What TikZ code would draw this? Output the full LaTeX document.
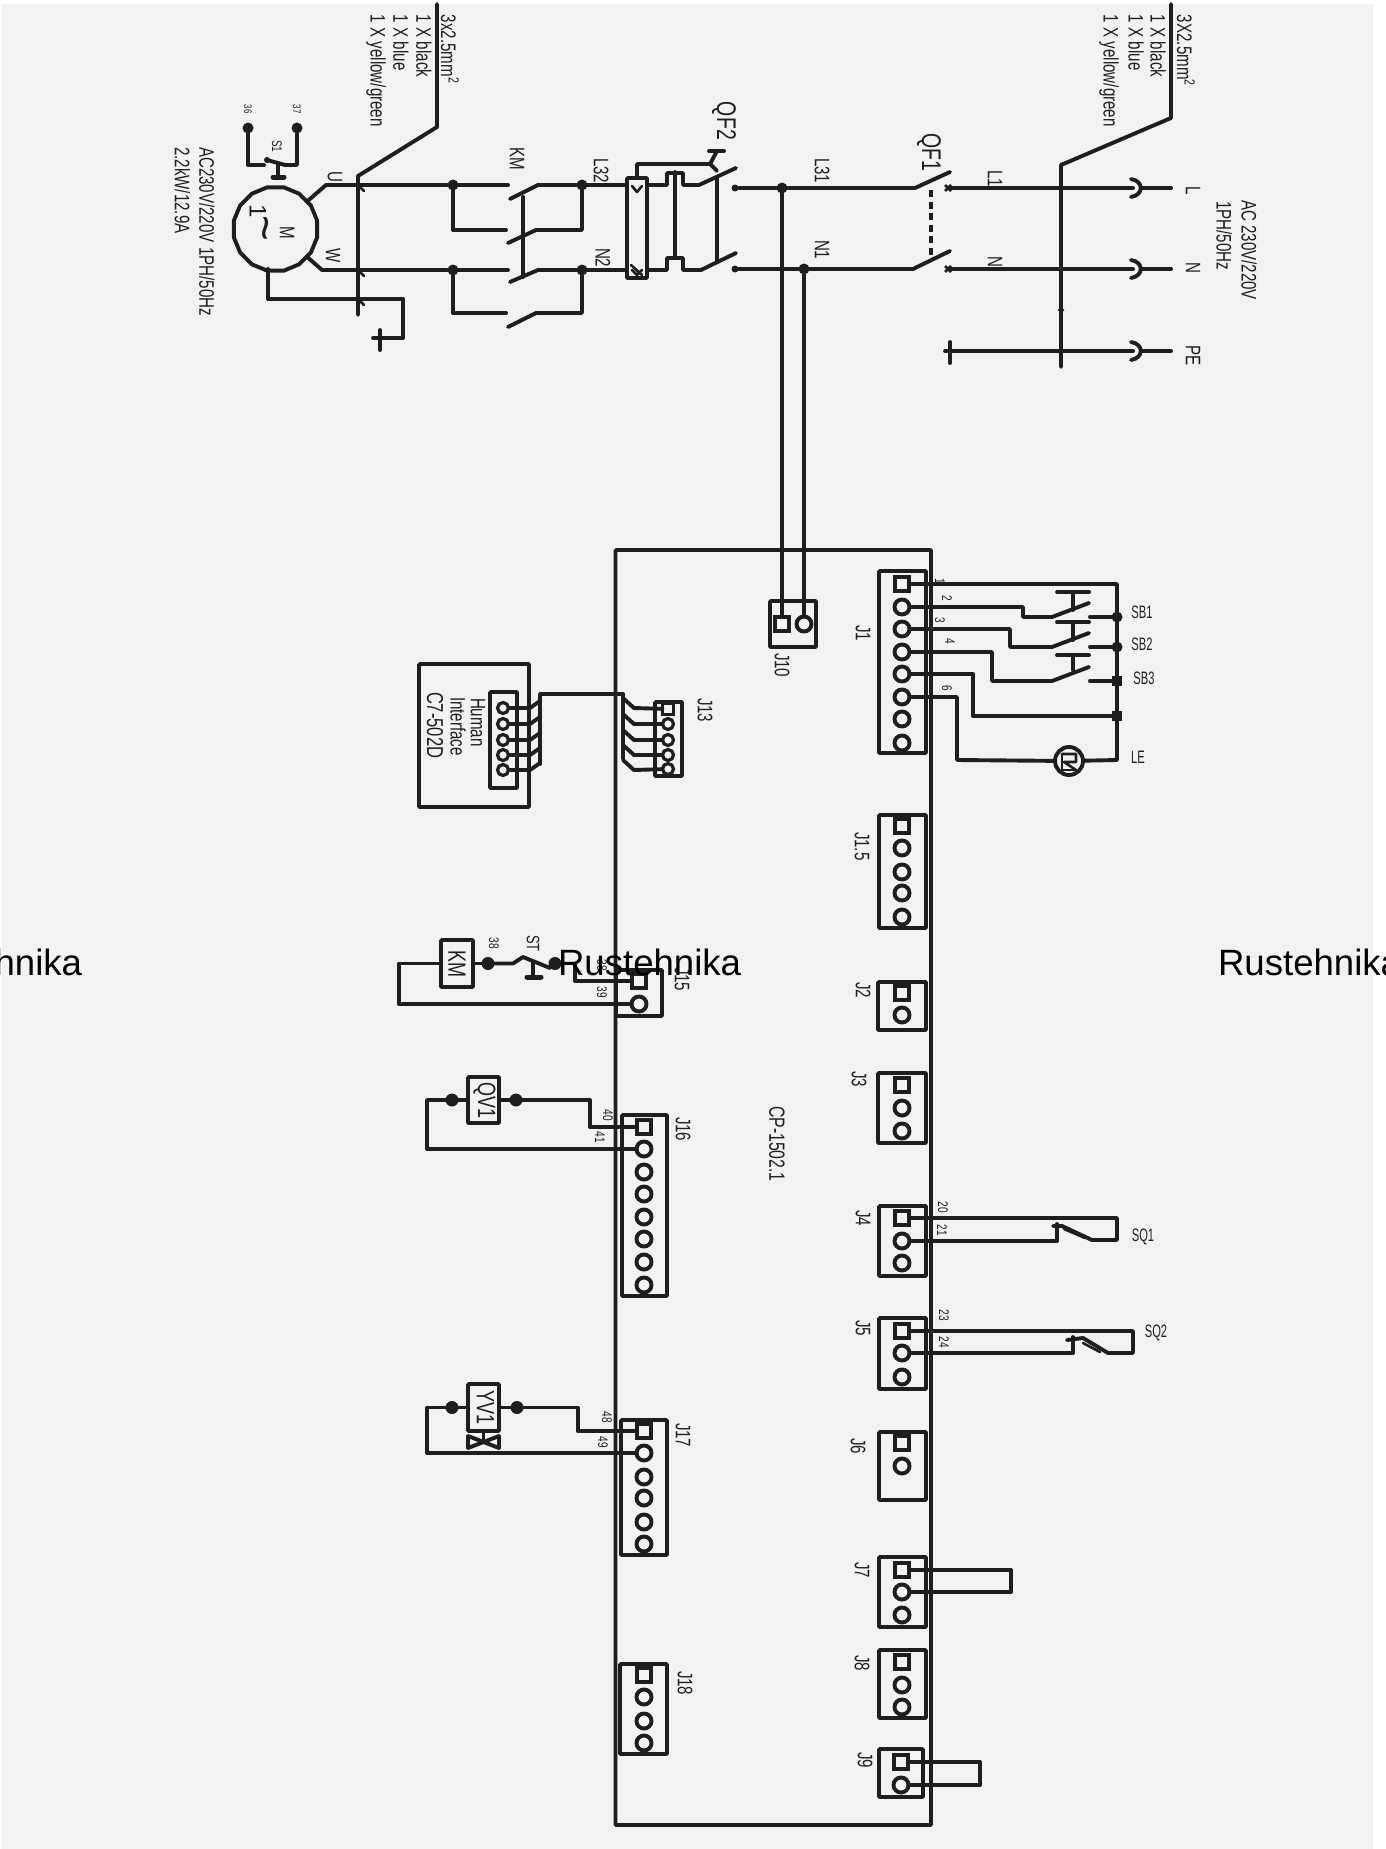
\documentclass[tikz,border=0pt]{standalone}
\usepackage{fontspec}
\usepackage{graphicx}
\setmainfont{Liberation Sans}
\usetikzlibrary{shapes.geometric,shapes.misc}
\definecolor{ink}{HTML}{1E1E1E}
\definecolor{paper}{HTML}{F2F2F2}
\tikzset{
  w/.style={draw=ink,line width=3.9pt,line cap=round,line join=round},
  thin wire/.style={draw=ink,line width=2.6pt,line cap=round,line join=round},
  bxs/.style={draw=ink,line width=3.9pt,rectangle,inner sep=0pt,outer sep=0pt,rounded corners=1pt},
  ts/.style={draw=ink,line width=3.9pt,rectangle,minimum size=14pt,inner sep=0pt,outer sep=0pt},
  tc/.style={draw=ink,line width=3.9pt,circle,minimum size=15pt,inner sep=0pt,outer sep=0pt},
  tss/.style={draw=ink,line width=3.2pt,rectangle,minimum size=11pt,inner sep=0pt,outer sep=0pt},
  tcs/.style={draw=ink,line width=3.2pt,circle,minimum size=11pt,inner sep=0pt,outer sep=0pt},
  bdot/.style={fill=ink,circle,minimum size=11pt,inner sep=0pt,outer sep=0pt},
  sdot/.style={fill=ink,circle,minimum size=7pt,inner sep=0pt,outer sep=0pt},
  qdot/.style={fill=ink,rectangle,minimum size=10pt,inner sep=0pt,outer sep=0pt},
  xm/.style={draw=ink,cross out,line width=2.6pt,minimum size=6pt,inner sep=0pt,outer sep=0pt},
  lab/.style={text=ink,inner sep=0pt,outer sep=0pt},
}
% rotated label, starting at its top end
\newcommand{\vl}[5]{\node[lab,rotate=-90,anchor=west,font=\fontsize{#4}{#4}\selectfont] (#1) at (#2,#3) {\scalebox{.72}[1]{#5}};}
% rotated label, centred
\newcommand{\vc}[5]{\node[lab,rotate=-90,font=\fontsize{#4}{#4}\selectfont] (#1) at (#2,#3) {\scalebox{.72}[1]{#5}};}
% upright narrow label, centred
\newcommand{\hl}[4]{\node[lab,font=\fontsize{18}{18}\selectfont] (#1) at (#2,#3) {\scalebox{.62}[1]{#4}};}
\newcommand{\bx}[5]{\node[bxs,minimum width={#4-#2},minimum height={#5-#3}] (#1) at ({(#2+#4)/2},{(#3+#5)/2}) {};}
\newcommand{\termcol}[3]{\foreach \yy [count=\ii] in {#3} {\ifnum\ii=1 \node[ts] (#1t\ii) at (#2,\yy) {}; \else \node[tc] (#1t\ii) at (#2,\yy) {}; \fi}}
\begin{document}
\begin{tikzpicture}[x=1pt,y=-1pt]
\useasboundingbox (0,0) rectangle (1385,1849);
\fill[white] (0,0) rectangle (1385,1849);
\fill[paper] (2,4) rectangle (1373,1849);

% ---------- controller board and its connectors
\bx{board}{615.5}{550}{931}{1825}
\bx{jone}{879}{571}{926}{753}
\termcol{jone}{902}{584,607,629,652,674,697,719,743}
\bx{jonec}{879}{815}{926}{928}
\termcol{jonec}{902}{826,848,872,893,917}
\bx{jtwo}{878}{982}{926}{1030}
\termcol{jtwo}{902}{993,1015}
\bx{jthree}{878}{1073}{926}{1143}
\termcol{jthree}{902}{1085,1108,1131}
\bx{jfour}{879}{1206}{926}{1276}
\termcol{jfour}{902}{1218,1241,1263}
\bx{jfive}{879}{1318}{926}{1389}
\termcol{jfive}{902}{1331,1353,1377}
\bx{jsix}{879}{1432}{926}{1500}
\termcol{jsix}{902}{1443,1466}
\bx{jseven}{879}{1557}{926}{1627}
\termcol{jseven}{902}{1570,1592,1615}
\bx{jeight}{879}{1650}{926}{1718}
\termcol{jeight}{902}{1662,1685,1707}
\bx{jnine}{879}{1749}{923}{1797}
\termcol{jnine}{901}{1762,1785}
\bx{jten}{770}{601}{816}{647}
\node[ts] (jtena) at (782,624) {};
\node[tc] (jtenb) at (804,624) {};
\bx{jfifteen}{616}{970}{662}{1016}
\termcol{jfifteen}{639}{981,1004}
\bx{jsixteen}{622}{1115}{667}{1296}
\termcol{jsixteen}{644}{1127,1149,1172,1194,1217,1239,1262,1285}
\bx{jseventeen}{621}{1420}{667}{1555}
\termcol{jseventeen}{644}{1431,1453,1477,1498,1522,1544}
\bx{jeighteen}{620}{1664}{667}{1754}
\termcol{jeighteen}{644}{1675,1697,1721,1743}
\bx{jthirteen}{655}{702}{682}{776}
\node[tss] (dra) at (668,709) {};
\foreach \yy/\nn in {724/b,740/c,755/d,769/e} \node[tcs] (dr\nn) at (668,\yy) {};

% ---------- HMI
\bx{hmi}{419}{664}{529}{807}
\bx{hmic}{490}{692}{517}{788}
\foreach \yy/\nn in {708/a,724/b,740/c,755/d,770/e} \node[tcs] (hm\nn) at (503,\yy) {};
\draw[w] (540,764) -- (540,694) -- (623,694) -- (623,758);
\foreach \yy/\nn in {708/a,724/b,740/c,755/d,770/e} {
  \draw[w] (hm\nn) -- (530,\yy) -- (540,\yy-7);
  \draw[w] (623,\yy-10) -- (634,\yy) -- (dr\nn);
}

% ---------- mains cables
\draw[w] (1171,4) -- (1171,118) -- (1061,165) -- (1061,367);
\draw[w] (437,4) -- (437,127) -- (358,176) -- (358,315);

% ---------- supply side
\node[sdot] (qftwoL) at (735,188) {};
\node[sdot] (qftwoN) at (735,269) {};
\node[bdot] (jL) at (782,188) {};
\node[bdot] (jN) at (804,269) {};
\node[xm] (qfoneL) at (948,188) {};
\node[xm] (qfoneN) at (948,269) {};
\draw[w] (qftwoL) -- (jL) -- (915,188) -- (950,172);
\draw[w] (qftwoN) -- (jN) -- (913,269) -- (950,251);
\draw[w,line cap=butt,dash pattern=on 7pt off 4.5pt] (931,190) -- (931,258);
\draw[w] (jL) -- (jtena);
\draw[w] (jN) -- (jtenb);
\foreach \yy/\nn in {188/L,269/N,351/P} {
  \draw[w] (1131,\yy-9) .. controls (1144,\yy-7) and (1144,\yy+7) .. (1131,\yy+9);
  \draw[w] (1141,\yy) -- (1171,\yy);
  \node[fill=ink,circle,minimum size=6pt,inner sep=0pt] (gnd\nn) at (1061,\yy) {};
}
\draw[w] (qfoneL) -- (1133,188);
\draw[w] (qfoneN) -- (1133,269);
\coordinate (earthR) at (950,351);
\draw[w] (earthR) -- (1133,351);
\draw[w] (earthR |- 0,342) -- (950,363);
\draw[w] (945,351) -- (950,351);
\node[fill=ink,diamond,minimum size=7pt,inner sep=0pt] (tick) at (1061,310) {};

% ---------- QF2 and overload
\bx{ol}{627}{178}{647}{278}
\draw[w] (647,185) -- (667,185) -- (667,173) -- (683,173) -- (683,185) -- (699,185) -- (736,168);
\draw[w] (647,270) -- (667,270) -- (667,258) -- (683,258) -- (683,270) -- (701,270) -- (736,253);
\draw[w] (675,172) -- (675,258);
\draw[w] (717,177) -- (717,262);
\draw[w] (637,178) -- (637,164) -- (710,164) -- (717,171);
\draw[w] (710,164) -- (717,151);
\draw[w] (709,151) -- (724,151);
\draw[thin wire] (632,186) -- (637,192) -- (642,186);
\draw[thin wire] (632,270) -- (637,275) -- (642,270);
\draw[thin wire] (631,265) -- (642,275);

% ---------- KM contacts
\node[bdot] (kmA) at (453,185) {};
\node[bdot] (kmB) at (582,185) {};
\node[bdot] (kmC) at (453,270) {};
\node[bdot] (kmD) at (582,270) {};
\draw[w] (kmA) -- (508,185);
\draw[w] (510,199) -- (538,185) -- (kmB);
\draw[w] (kmB) -- (627,185);
\draw[w] (kmA) -- (453,230) -- (506,230);
\draw[w] (508,243) -- (536,230) -- (582,230) -- (kmB);
\draw[w] (kmC) -- (508,270);
\draw[w] (510,282) -- (538,270) -- (kmD);
\draw[w] (kmD) -- (627,270);
\draw[w] (kmC) -- (453,313) -- (506,313);
\draw[w] (508,327) -- (536,313) -- (582,313) -- (kmD);
\draw[w] (523,197) -- (523,277);

% ---------- motor
\node[draw=ink,line width=3.9pt,regular polygon,regular polygon sides=16,minimum size=85pt,inner sep=0pt,outer sep=0pt] (motor) at (275.5,229) {};
\draw[w] (motor) -- (326,185) -- (kmA);
\draw[w] (motor) -- (322,270) -- (kmC);
\coordinate (mpe) at (268,269);
\draw[w] (mpe) -- (268,299) -- (403,299) -- (403,338) -- (380,338);
\draw[w] (380,330) -- (380,350);
\draw[w] (373,338) -- (380,338);
\foreach \yy/\nn in {185/a,270/b,299/c} {
  \node[fill=ink,circle,minimum size=6pt,inner sep=0pt] (mj\nn) at (358,\yy) {};
  \draw[thin wire] (358,\yy) -- (364,\yy+6);
}
\node[bdot] (sa) at (248,128) {};
\node[bdot] (sb) at (297,128) {};
\draw[w] (sa) -- (248,165) -- (264,165);
\draw[w] (267,160) -- (285,165) -- (297,165) -- (sb);
\draw[w] (278,163) -- (278,176);
\draw[w,line width=5pt] (273,177) -- (284,177);
\node[fill=ink,circle,minimum size=6pt,inner sep=0pt] (sc) at (267,160) {};

% ---------- KM coil branch
\node[bxs,minimum width=32pt,minimum height=47pt] (kmcoil) at (457,963.5) {};
\node[bdot,minimum size=13pt] (kmd) at (488,963.5) {};
\node[bdot,minimum size=13pt] (ste) at (555,963.5) {};
\draw[w] (kmcoil) -- (kmd);
\draw[w] (kmd) -- (513,963.5) -- (523,957) -- (550,968);
\draw[w] (533,962) -- (533,977);
\draw[w,line width=5pt] (527,977) -- (541,977);
\draw[w] (ste) -- (575,963.5) -- (575,981) -- (jfifteent1);
\draw[w] (kmcoil) -- (399,963.5) -- (399,1004) -- (jfifteent2);

% ---------- QV1 branch
\node[bxs,minimum width=31pt,minimum height=46pt] (qvone) at (483.5,1100) {};
\node[bdot,minimum size=13pt] (qva) at (452,1100) {};
\node[bdot,minimum size=13pt] (qvb) at (516,1100) {};
\draw[w] (qva) -- (qvone) -- (qvb);
\draw[w] (qvb) -- (590,1100) -- (590,1127) -- (jsixteent1);
\draw[w] (qva) -- (427,1100) -- (427,1149) -- (jsixteent2);

% ---------- YV1 branch
\node[bxs,minimum width=31pt,minimum height=47pt] (yvone) at (483.5,1407.5) {};
\node[bdot,minimum size=13pt] (yva) at (452,1407.5) {};
\node[bdot,minimum size=13pt] (yvb) at (517,1407.5) {};
\draw[w] (yva) -- (yvone) -- (yvb);
\draw[w] (yvb) -- (578,1407.5) -- (578,1431) -- (jseventeent1);
\draw[w] (yva) -- (427,1407.5) -- (427,1453) -- (jseventeent2);
\draw[w] (yvone) -- (483.5,1442);
\draw[w] (468,1436) -- (499,1448) -- (499,1436) -- (468,1448) -- cycle;

% ---------- buttons and lamp on J1
\node[bdot] (sbA) at (1117,617) {};
\node[bdot] (sbB) at (1117,647) {};
\node[qdot] (sbC) at (1117,681) {};
\node[qdot] (sbD) at (1117,716) {};
\node[draw=ink,line width=3.9pt,circle,minimum size=28pt,inner sep=0pt,outer sep=0pt] (lamp) at (1069,761) {};
\draw[w] (jonet1) -- (1117,584) -- (1117,760) -- (lamp);
\draw[w] (lamp) -- (957,760) -- (957,697) -- (jonet6);
\draw[w] (jonet2) -- (1023,607) -- (1023,617) -- (1052,617) -- (1089,603);
\draw[w] (1090,617) -- (sbA);
\draw[w] (1073,592) -- (1073,610);
\draw[w] (1057,592) -- (1089,592);
\draw[w] (jonet3) -- (1010,629) -- (1010,647) -- (1052,647) -- (1089,633);
\draw[w] (1090,647) -- (sbB);
\draw[w] (1073,622) -- (1073,640);
\draw[w] (1057,622) -- (1089,622);
\draw[w] (jonet4) -- (992,652) -- (992,681) -- (1052,681) -- (1089,667);
\draw[w] (1090,681) -- (sbC);
\draw[w] (1073,655) -- (1073,670);
\draw[w] (1057,655) -- (1089,655);
\draw[w] (jonet5) -- (973,674) -- (973,716) -- (sbD);
\draw[thin wire] (1062,754) -- (1062,770) -- (1076,770);
\draw[thin wire] (1062,754) -- (1076,754) -- (1076,762) -- (1064,762) -- (1076,770);

% ---------- limit switches
\draw[w] (jfourt1) -- (1117,1218) -- (1117,1240) -- (1092,1240) -- (1062,1226) -- (1053,1226);
\draw[w] (jfourt2) -- (1057,1241) -- (1057,1224);
\draw[thin wire] (1064,1229) -- (1085,1238);
\draw[w] (jfivet1) -- (1133,1331) -- (1133,1353) -- (1108,1353) -- (1083,1338) -- (1067,1340);
\draw[w] (jfivet2) -- (1073,1353) -- (1073,1337);
\draw[thin wire] (1083,1343) -- (1100,1352);

% ---------- loops
\draw[w] (jsevent1) -- (1011,1570) -- (1011,1592) -- (jsevent2);
\draw[w] (jninet1) -- (980,1762) -- (980,1785) -- (jninet2);

% ---------- rotated labels
\vl{capR}{1186}{15}{21}{3X2.5mm\textsuperscript{2}}
\vl{caprb}{1158}{15}{21}{1 X black}
\vl{caprc}{1136}{15}{21}{1 X blue}
\vl{capry}{1109}{15}{21}{1 X yellow/green}
\vl{capL}{450}{15}{21}{3x2.5mm\textsuperscript{2}}
\vl{caplb}{424}{15}{21}{1 X black}
\vl{caplc}{401}{15}{21}{1 X blue}
\vl{caply}{376}{15}{21}{1 X yellow/green}
\vl{acone}{1249}{200}{21}{AC 230V/220V}
\vl{actwo}{1224}{201}{21}{1PH/50Hz}
\vl{lL}{1193}{186}{21}{L}
\vl{lN}{1193}{262}{21}{N}
\vl{lP}{1193}{345}{21}{PE}
\vl{lLone}{995}{170}{21}{L1}
\vl{lNa}{995}{256}{21}{N}
\vl{lLthree}{822}{158}{21}{L31}
\vl{lNone}{822}{240}{21}{N1}
\vl{lqfone}{929}{133}{27}{QF1}
\vl{lqftwo}{724}{102}{27}{QF2}
\vl{lLtwo}{601}{158}{21}{L32}
\vl{lNtwo}{603}{248}{21}{N2}
\vl{lKM}{517}{147}{21}{KM}
\vl{lU}{335}{171}{21}{U}
\vl{lW}{333}{248}{21}{W}
\vl{lM}{287}{226}{21}{M}
\vl{lpa}{207}{147}{21}{AC230V/220V 1PH/50Hz}
\vl{lpb}{182.5}{147}{21}{2.2kW/12.9A}
\vl{lsa}{248}{105}{11}{36}
\vl{lsb}{297}{105}{11}{37}
\vl{lsc}{277}{140}{14}{S1}
\node[lab,rotate=-90,font=\fontsize{24}{24}\selectfont] (lone) at (258,211) {1};
\node[lab,rotate=-90,font=\fontsize{44}{44}\selectfont] (ltilde) at (259,228) {\scalebox{1}[1.1]{\char`\~}};
\vl{hfirst}{478}{698}{21}{Human}
\vl{hsecond}{458}{697}{21}{Interface}
\vl{hthird}{435}{692}{23}{C7-502D}
\vl{ljthirteen}{705}{698}{21}{J13}
\vl{ljten}{782}{653}{21}{J10}
\vl{ljone}{863}{625}{21}{J1}
\vl{ljonec}{862}{832}{21}{J1.5}
\vl{ljtwo}{863}{982}{21}{J2}
\vl{ljthree}{859}{1071}{21}{J3}
\vl{ljfour}{863}{1210}{21}{J4}
\vl{ljfive}{863}{1320}{21}{J5}
\vl{ljsix}{858}{1438}{21}{J6}
\vl{ljseven}{862}{1562}{21}{J7}
\vl{ljeight}{862}{1655}{21}{J8}
\vl{ljnine}{865}{1752}{21}{J9}
\vl{ljfifteen}{682}{967}{21}{J15}
\vl{ljsixteen}{683}{1117}{21}{J16}
\vl{ljseventeen}{683}{1423}{21}{J17}
\vl{ljeighteen}{685}{1671}{21}{J18}
\vl{lcp}{777}{1106}{22}{CP-1502.1}
\foreach \xx/\yy/\txt/\nn in {940/581/1/a,947/598/2/b,940/620/3/c,950/641/4/d,947/688/6/e,
  943/1207/20/f,942/1230/21/g,944/1315/23/h,944/1342/24/i,
  494/943/38/j,602/965/38/p,602/992/39/k,608/1115/40/l,600/1137/41/m,607/1417/48/n,603/1442/49/o}
  {\vc{num\nn}{\xx}{\yy}{14}{\txt}}
\vl{lST}{533}{935}{18}{ST}
\vc{lkmc}{457}{963.5}{25}{KM}
\vc{lqv}{484.5}{1100}{25}{QV1}
\vc{lyv}{485.5}{1407}{25}{YV1}

% ---------- upright labels
\hl{lsbone}{1142}{612}{SB1}
\hl{lsbtwo}{1142}{644}{SB2}
\hl{lsbthree}{1144}{678}{SB3}
\hl{lle}{1138}{757}{LE}
\hl{lsqone}{1143}{1237}{SQ1}
\hl{lsqtwo}{1156}{1333}{SQ2}

% ---------- watermark
\foreach \xx/\nn in {-101/a,558/b,1218/c}
  \node[lab,anchor=base west,text=black,font=\fontsize{36.6}{36.6}\selectfont] (rust\nn) at (\xx,975) {Rustehnika};
\end{tikzpicture}
\end{document}
